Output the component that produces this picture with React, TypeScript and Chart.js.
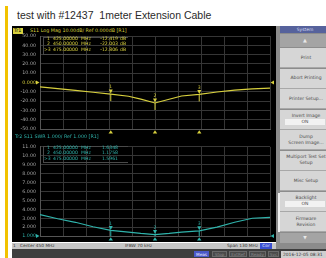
import React, { useEffect, useRef } from "react";
import { Chart, registerables } from "chart.js";

Chart.register(...registerables);

const TITLE = "test with #12437  1meter Extension Cable";

const FREQS_MHZ = [385, 395, 405, 415, 425, 435, 442, 450, 458, 465, 475, 485, 495, 505, 515];
const S11_DB = [-4.8, -6.5, -8.5, -10.5, -12.419, -14.8, -17.8, -22.003, -18.0, -14.5, -12.806, -10.2, -8.2, -6.8, -6.0];
const SWR = [3.4, 2.95, 2.55, 2.05, 1.6348, 1.45, 1.3, 1.1758, 1.3, 1.45, 1.5961, 2.0, 2.55, 3.0, 3.1];

const MARKER_IDS = ["1", "2", ">3"];
const MARKER_FREQS = [425, 450, 475];
const MARKER_S11 = [-12.419, -22.003, -12.806];
const MARKER_SWR = [1.6348, 1.1758, 1.5961];

const CENTER_MHZ = 450;
const SPAN_MHZ = 130;
const IFBW = "70 kHz";

const S11_MIN = -50;
const S11_MAX = 50;
const S11_STEP = 10;
const SWR_MIN = 1;
const SWR_MAX = 11;
const SWR_STEP = 1;

const SOFTKEYS: { lines: string[]; value?: string }[] = [
  { lines: ["Print"] },
  { lines: ["Abort Printing"] },
  { lines: ["Printer Setup..."] },
  { lines: ["Invert Image"], value: "ON" },
  { lines: ["Dump", "Screen Image..."] },
  { lines: ["Multiport Test Set", "Setup"] },
  { lines: ["Misc Setup"] },
  { lines: ["Backlight"], value: "ON" },
  { lines: ["Firmware", "Revision"] },
];

const STATUS_ITEMS = ["Meas", "Stop", "ExtRef", "Ready", "Svc"];
const DATE_TEXT = "2016-12-05 08:31";

const YELLOW = "#d8d03e";
const CYAN = "#2fb3ab";
const GRID = "#363636";
const FRAME = "#555555";
const TICK = "#a4a4a4";

const analyzerPlugin = {
  id: "analyzer",
  afterDatasetsDraw(chart: any, _args: any, opts: any) {
    const { ctx, chartArea, scales } = chart;
    const xs = scales.x;
    const ys = scales.y;
    ctx.save();
    ctx.fillStyle = opts.color;
    ctx.strokeStyle = opts.color;
    // reference arrows
    const yr = ys.getPixelForValue(opts.refValue);
    ctx.beginPath();
    ctx.moveTo(chartArea.left - 4, yr - 2);
    ctx.lineTo(chartArea.left - 0.5, yr);
    ctx.lineTo(chartArea.left - 4, yr + 2);
    ctx.closePath();
    ctx.fill();
    ctx.beginPath();
    ctx.moveTo(chartArea.right + 4, yr - 2);
    ctx.lineTo(chartArea.right + 0.5, yr);
    ctx.lineTo(chartArea.right + 4, yr + 2);
    ctx.closePath();
    ctx.fill();
    // markers
    ctx.font = "4.6px 'DejaVu Sans'";
    ctx.textAlign = "center";
    ctx.textBaseline = "bottom";
    opts.freqs.forEach((f: number, i: number) => {
      const x = xs.getPixelForValue(f);
      const y = ys.getPixelForValue(opts.values[i]);
      const num = String(i + 1);
      if (opts.stem) {
        ctx.lineWidth = 1;
        ctx.beginPath();
        ctx.moveTo(x, y);
        ctx.lineTo(x, chartArea.bottom);
        ctx.stroke();
      } else {
        ctx.lineWidth = 1;
        ctx.beginPath();
        ctx.moveTo(x, y);
        ctx.lineTo(x, y + 7);
        ctx.stroke();
      }
      ctx.beginPath();
      ctx.moveTo(x - 2, y - 4.5);
      ctx.lineTo(x + 2, y - 4.5);
      ctx.lineTo(x, y - 0.5);
      ctx.closePath();
      ctx.fill();
      ctx.fillText(num, x, y - 4.5);
      // bottom stimulus triangles
      const b = chartArea.bottom;
      ctx.beginPath();
      ctx.moveTo(x - 2.2, b + 4.5);
      ctx.lineTo(x + 2.2, b + 4.5);
      ctx.lineTo(x, b + 1.2);
      ctx.closePath();
      ctx.fill();
    });
    ctx.restore();
  },
};

function makeConfig(
  values: number[],
  color: string,
  yMin: number,
  yMax: number,
  yStep: number,
  fmt: (v: number) => string,
  refValue: number,
  markerValues: number[],
  stem: boolean,
  padTop: number,
  padBottom: number
): any {
  return {
    type: "line",
    data: {
      datasets: [
        {
          data: FREQS_MHZ.map((f, i) => ({ x: f, y: values[i] })),
          borderColor: color,
          borderWidth: 1.2,
          pointRadius: 0,
          tension: 0,
          fill: false,
        },
      ],
    },
    options: {
      animation: false,
      responsive: false,
      maintainAspectRatio: false,
      events: [],
      layout: { padding: { top: padTop, bottom: padBottom, left: 0, right: 6 } },
      plugins: {
        legend: { display: false },
        tooltip: { enabled: false },
        analyzer: { color, refValue, freqs: MARKER_FREQS, values: markerValues, stem },
      },
      scales: {
        x: {
          type: "linear",
          min: CENTER_MHZ - SPAN_MHZ / 2,
          max: CENTER_MHZ + SPAN_MHZ / 2,
          ticks: { display: false, stepSize: SPAN_MHZ / 10 },
          grid: { color: GRID, lineWidth: 1, drawTicks: false },
          border: { color: FRAME, width: 1 },
          afterFit: (s: any) => {
            s.height = 0;
          },
        },
        y: {
          type: "linear",
          min: yMin,
          max: yMax,
          ticks: {
            stepSize: yStep,
            padding: 4,
            font: { family: "'DejaVu Sans'", size: 4.8 },
            color: (c: any) => (c.tick && c.tick.value === refValue ? color : TICK),
            callback: (v: any) => fmt(Number(v)),
          },
          grid: { color: GRID, lineWidth: 1, drawTicks: false },
          border: { color: FRAME, width: 1 },
          afterFit: (s: any) => {
            s.width = 28;
          },
        },
      },
    },
    plugins: [analyzerPlugin],
  };
}

const tiny = (size: number, color: string, extra: any = {}): React.CSSProperties => ({
  position: "absolute",
  fontFamily: "'DejaVu Sans', sans-serif",
  fontSize: size + "px",
  lineHeight: size + 1 + "px",
  color,
  whiteSpace: "pre",
  ...extra,
});

function Readout({ top, color, values, unit, dec }: any) {
  return (
    <>
      {MARKER_IDS.map((id, i) => {
        const y = top + i * 5.3;
        const v = values[i].toFixed(dec);
        return (
          <React.Fragment key={id}>
            <div style={tiny(4.6, color, { left: id.length > 1 ? 44 : 47, top: y })}>{id}</div>
            <div style={tiny(4.6, color, { left: 53, top: y })}>{MARKER_FREQS[i].toFixed(5)}</div>
            <div style={tiny(4.6, color, { left: 81, top: y })}>MHz</div>
            <div style={tiny(4.6, color, { left: 96, top: y, width: 22, textAlign: "right" })}>{v}</div>
            {unit ? <div style={tiny(4.6, color, { left: 120, top: y })}>{unit}</div> : null}
          </React.Fragment>
        );
      })}
    </>
  );
}

export default function App() {
  const topRef = useRef<HTMLCanvasElement>(null);
  const botRef = useRef<HTMLCanvasElement>(null);

  useEffect(() => {
    const c1 = new Chart(
      topRef.current as HTMLCanvasElement,
      makeConfig(
        S11_DB,
        YELLOW,
        S11_MIN,
        S11_MAX,
        S11_STEP,
        (v) => (v === 0 ? "0.000" : v.toFixed(2)),
        0,
        MARKER_S11,
        false,
        10,
        7
      )
    );
    const c2 = new Chart(
      botRef.current as HTMLCanvasElement,
      makeConfig(
        SWR,
        CYAN,
        SWR_MIN,
        SWR_MAX,
        SWR_STEP,
        (v) => (v >= 10 ? v.toFixed(2) : v.toFixed(3)),
        1,
        MARKER_SWR,
        true,
        5,
        5
      )
    );
    return () => {
      c1.destroy();
      c2.destroy();
    };
  }, []);

  const btnTop0 = 48;
  const btnH = 20.5;

  return (
    <div
      style={{
        position: "absolute",
        left: 0,
        top: 0,
        width: 326,
        height: 258,
        overflow: "hidden",
        background: "#ffffff",
      }}
    >
      {/* yellow side bar */}
      <div style={{ position: "absolute", left: 5, top: 6, width: 2.5, height: 252, background: "#f2c200" }} />
      {/* title */}
      <div
        style={{
          position: "absolute",
          left: 17,
          top: 8,
          fontFamily: "'Liberation Sans', Arial, sans-serif",
          fontSize: "10.5px",
          lineHeight: "14px",
          color: "#2a2a2a",
          whiteSpace: "pre",
        }}
      >
        {TITLE}
      </div>
      {/* screen background */}
      <div style={{ position: "absolute", left: 12, top: 26, width: 264, height: 216, background: "#000" }} />

      {/* top header */}
      <div style={{ position: "absolute", left: 13, top: 28, width: 10, height: 6, background: YELLOW }} />
      <div style={tiny(4.8, "#000", { left: 14, top: 28.3 })}>Tr1</div>
      <div style={tiny(4.8, YELLOW, { left: 30, top: 28.3 })}>S11 Log Mag 10.00dB/ Ref 0.000dB [R1]</div>

      <canvas
        ref={topRef}
        width={264}
        height={110}
        style={{ position: "absolute", left: 12, top: 26, width: 264, height: 110 }}
      />
      <canvas
        ref={botRef}
        width={264}
        height={103}
        style={{ position: "absolute", left: 12, top: 140, width: 264, height: 103 }}
      />

      {/* bottom header */}
      <div style={tiny(4.8, CYAN, { left: 15, top: 134.2 })}>Tr2 S11 SWR 1.000/ Ref 1.000 [R1]</div>

      {/* marker readouts */}
      <div style={{ position: "absolute", left: 43, top: 36.5, width: 84, height: 16, border: "0.6px solid #4a4a4a", borderRight: "none" }} />
      <Readout top={36} color={YELLOW} values={MARKER_S11} unit="dB" dec={3} />
      <div style={{ position: "absolute", left: 43, top: 145.5, width: 84, height: 15.5, border: "0.6px solid #4a4a4a", borderRight: "none" }} />
      <Readout top={145} color={CYAN} values={MARKER_SWR} unit="" dec={4} />

      {/* right softkey panel */}
      <div style={{ position: "absolute", left: 276, top: 26, width: 50, height: 223, background: "#8c8c8c" }} />
      <div style={{ position: "absolute", left: 277.5, top: 193, width: 2.5, height: 39, background: "#f0f0f0" }} />
      <div style={{ position: "absolute", left: 280, top: 26, width: 50, height: 7, background: "#56629c" }} />
      <div style={tiny(4.4, "#d8dcf0", { left: 280, top: 27, width: 50, textAlign: "center" })}>System</div>
      <div style={{ position: "absolute", left: 280, top: 33.5, width: 50, height: 13.5, background: "#a4a4a4" }} />
      <div style={tiny(5, "#e8e8e8", { left: 280, top: 37, width: 50, textAlign: "center" })}>▲</div>
      {SOFTKEYS.map((k, i) => {
        const t = btnTop0 + i * btnH;
        const n = k.lines.length + (k.value ? 1 : 0);
        const textTop = t + (btnH - 1.5 - n * 6) / 2;
        return (
          <React.Fragment key={i}>
            <div
              style={{
                position: "absolute",
                left: 280,
                top: t,
                width: 50,
                height: btnH - 1.5,
                background: "#d6d6d6",
                borderBottom: "0.8px solid #a8a8a8",
              }}
            />
            {k.lines.map((ln, j) => (
              <div key={j} style={tiny(4.5, "#4a4a4a", { left: 280, top: textTop + j * 6, width: 52, textAlign: "center" })}>
                {ln}
              </div>
            ))}
            {k.value ? (
              <>
                <div
                  style={{
                    position: "absolute",
                    left: 285,
                    top: textTop + k.lines.length * 6,
                    width: 40,
                    height: 5.5,
                    background: "#f2f2f2",
                  }}
                />
                <div style={tiny(4.5, "#4a4a4a", { left: 285, top: textTop + k.lines.length * 6 + 0.2, width: 40, textAlign: "center" })}>
                  {k.value}
                </div>
              </>
            ) : null}
          </React.Fragment>
        );
      })}
      <div style={{ position: "absolute", left: 280, top: 233, width: 50, height: 10, background: "#a4a4a4" }} />
      <div style={tiny(4.5, "#e8e8e8", { left: 280, top: 235, width: 50, textAlign: "center" })}>▼</div>

      {/* status bar */}
      <div style={{ position: "absolute", left: 12, top: 242.5, width: 264, height: 6.5, background: "#c6c6c6" }} />
      <div style={tiny(4.3, "#333", { left: 13, top: 243.3 })}>1</div>
      <div style={tiny(4.3, "#333", { left: 20, top: 243.3 })}>{"Center " + CENTER_MHZ + " MHz"}</div>
      <div style={tiny(4.3, "#333", { left: 125, top: 243.3 })}>{"IFBW " + IFBW}</div>
      <div style={tiny(4.3, "#333", { left: 227, top: 243.3 })}>{"Span " + SPAN_MHZ + " MHz"}</div>
      <div style={{ position: "absolute", left: 260, top: 243, width: 12, height: 5.5, background: "#3a4fd0" }} />
      <div style={tiny(4.3, "#e0e6ff", { left: 260, top: 243.3, width: 12, textAlign: "center" })}>Cor</div>

      {/* bottom instrument bar */}
      <div style={{ position: "absolute", left: 12, top: 249, width: 314, height: 9, background: "#3e3e3e" }} />
      {STATUS_ITEMS.map((s, i) => {
        const lefts = [194, 212, 229, 249, 268];
        const widths = [15, 15, 18, 17, 11];
        return (
          <React.Fragment key={s}>
            <div
              style={{
                position: "absolute",
                left: lefts[i],
                top: 251,
                width: widths[i],
                height: 6,
                background: i === 0 ? "#4a58c8" : "#4a4a4a",
                border: i === 0 ? "none" : "0.5px solid #6a6a6a",
                boxSizing: "border-box",
              }}
            />
            <div style={tiny(4.2, i === 0 ? "#f0f0ff" : "#8a8a8a", { left: lefts[i], top: 251.5, width: widths[i], textAlign: "center" })}>
              {s}
            </div>
          </React.Fragment>
        );
      })}
      <div style={{ position: "absolute", left: 281, top: 250.5, width: 45, height: 7.5, background: "#cfcfcf" }} />
      <div style={tiny(4.4, "#333", { left: 283, top: 251.6 })}>{DATE_TEXT}</div>
    </div>
  );
}
